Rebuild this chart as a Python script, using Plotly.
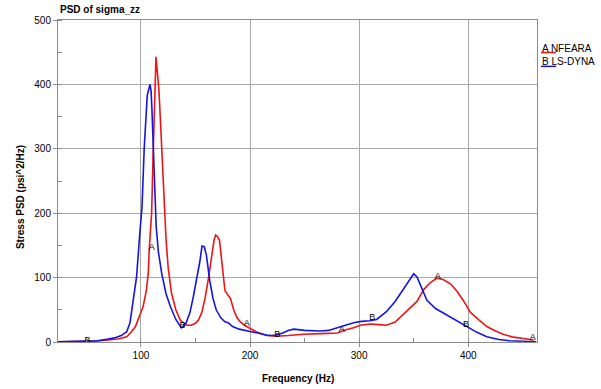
import plotly.graph_objects as go

# ---------------- data ----------------
freq_nfeara = [20, 30, 40, 50, 60, 70, 80, 87, 91, 95, 99, 102, 105, 106.7, 107.6, 109.8, 111, 112.8, 113.8,
               115, 116.5, 118, 119, 121, 123, 125, 128, 132, 136, 142, 146, 150, 153, 156, 159, 162,
               165, 167, 168.5, 170, 172, 174, 177, 180, 182, 185, 188, 191, 195, 200, 207, 215, 224,
               235, 249, 265, 280, 288, 295, 301, 310, 318, 325, 333, 340, 347, 353, 359, 365, 371,
               377, 384, 390, 396, 402, 410, 417, 425, 432, 440, 451, 460]
psd_nfeara = [0, 0.2, 0.4, 0.8, 1.5, 3, 5, 8, 15, 24, 40, 55, 80, 107, 143, 200, 280, 402, 443,
              420, 391, 340, 298, 230, 160, 115, 76, 50, 34, 26, 26, 29, 35, 47, 70, 100,
              135, 158, 166, 164, 158, 128, 80, 72, 68, 50, 38, 31.5, 26, 21, 15, 10, 9,
              10, 12, 13, 14, 19, 22, 26, 28, 27, 26, 31, 42, 52, 63, 81, 92, 99,
              97, 90, 78, 63, 46, 34, 24, 17, 12, 8, 5, 3]

freq_lsdyna = [20, 30, 40, 51, 60, 70, 77, 82, 87, 90, 92, 96, 99, 101, 103, 105.8, 108.3, 109.3, 110,
               111.3, 113, 114, 116, 119, 123, 127, 132, 137, 141, 145, 148, 151, 154, 156, 158,
               160, 163, 166, 169, 173, 177, 180, 184, 190, 200, 208, 215, 220, 224, 230, 235,
               240, 250, 264, 272, 280, 288, 295, 302, 310, 316, 325, 333, 340, 346, 350, 353,
               357, 362, 370, 377, 385, 392, 399, 408, 417, 428, 438, 450, 462]
psd_lsdyna = [0, 0.3, 0.5, 1, 2, 4.5, 7, 10, 16, 30, 55, 101, 169, 210, 300, 383, 400, 390, 365,
              298, 220, 179, 140, 107, 75, 55, 35, 22, 28, 46, 70, 96, 125, 149, 148,
              135, 96, 68, 50, 38, 31.5, 30, 24, 20, 16, 13, 11, 10, 11, 14, 18,
              20, 18, 17, 18, 22, 26, 30, 32, 33, 35, 47, 63, 81, 97, 106, 101,
              85, 65, 52, 45, 38, 30, 23, 15, 8, 4, 2, 1, 0.5]

label_a_freq = [110, 197, 284, 372, 459]
label_a_psd = [147, 28, 19, 102, 6]
label_b_freq = [51, 138, 225, 312, 398]
label_b_psd = [2, 25, 12, 37, 27]

x_ticks = [100, 200, 300, 400]
y_ticks = [0, 100, 200, 300, 400, 500]

RED = "#ee1515"
BLUE = "#1515e0"
FONT = "Liberation Sans, Arial, sans-serif"

fig = go.Figure()
fig.add_trace(go.Scatter(x=freq_nfeara, y=psd_nfeara, mode="lines",
                         line=dict(color=RED, width=1.6), name="NFEARA"))
fig.add_trace(go.Scatter(x=freq_lsdyna, y=psd_lsdyna, mode="lines",
                         line=dict(color=BLUE, width=1.6), name="LS-DYNA"))
fig.add_trace(go.Scatter(x=label_a_freq, y=label_a_psd, mode="text",
                         text=["A"] * len(label_a_freq), textposition="middle center",
                         textfont=dict(family=FONT, size=9, color="black")))
fig.add_trace(go.Scatter(x=label_b_freq, y=label_b_psd, mode="text",
                         text=["B"] * len(label_b_freq), textposition="middle center",
                         textfont=dict(family=FONT, size=9, color="black")))

axis_common = dict(
    showline=True, linecolor="#8c8c8c", linewidth=1, mirror=True,
    showgrid=True, gridcolor="#a8a8a8", gridwidth=1,
    zeroline=False,
    ticks="outside", ticklen=4, tickcolor="#8c8c8c",
    tickfont=dict(family=FONT, size=10, color="black"),
)

fig.update_layout(
    width=601, height=389,
    margin=dict(l=58, r=64, t=20, b=47),
    paper_bgcolor="white", plot_bgcolor="white",
    showlegend=False,
    xaxis=dict(range=[24, 463], tickvals=x_ticks, ticktext=[str(v) for v in x_ticks],
               minor=dict(dtick=50, tick0=0, ticks="inside", ticklen=4, tickcolor="#8c8c8c",
                          showgrid=False),
               **axis_common),
    yaxis=dict(range=[0, 500], tickvals=y_ticks, ticktext=[str(v) for v in y_ticks],
               minor=dict(dtick=50, tick0=0, ticks="inside", ticklen=4, tickcolor="#8c8c8c",
                          showgrid=False),
               **axis_common),
    annotations=[
        dict(text="<b>PSD of sigma_zz</b>", xref="paper", yref="paper", x=0.0, y=1.0,
             xanchor="left", yanchor="bottom", yshift=3, showarrow=False,
             font=dict(family=FONT, size=10, color="black")),
        dict(text="<b>Frequency (Hz)</b>", xref="paper", yref="paper", x=0.5, y=0,
             xanchor="center", yanchor="middle", yshift=-36, showarrow=False,
             font=dict(family=FONT, size=10, color="black")),
        dict(text="<b>Stress PSD (psi^2/Hz)</b>", xref="paper", yref="paper", x=0, y=0.45,
             xanchor="center", yanchor="middle", xshift=-38, textangle=-90, showarrow=False,
             font=dict(family=FONT, size=10, color="black")),
        dict(text="A NFEARA", xref="paper", yref="paper", x=1.0, y=0.913,
             xanchor="left", yanchor="middle", xshift=3, showarrow=False,
             font=dict(family=FONT, size=10, color="black")),
        dict(text="B LS-DYNA", xref="paper", yref="paper", x=1.0, y=0.870,
             xanchor="left", yanchor="middle", xshift=3, showarrow=False,
             font=dict(family=FONT, size=10, color="black")),
    ],
    shapes=[
        dict(type="line", xref="paper", yref="paper", x0=1.0084, x1=1.0397, y0=0.899, y1=0.899,
             line=dict(color=RED, width=1.5)),
        dict(type="line", xref="paper", yref="paper", x0=1.0084, x1=1.0397, y0=0.856, y1=0.856,
             line=dict(color=BLUE, width=1.5)),
    ],
)

fig.write_html("out.html",
               config={"displayModeBar": False},
               post_script="document.body.style.margin='0';document.body.style.padding='0';"
                           "document.body.style.overflow='hidden';")
